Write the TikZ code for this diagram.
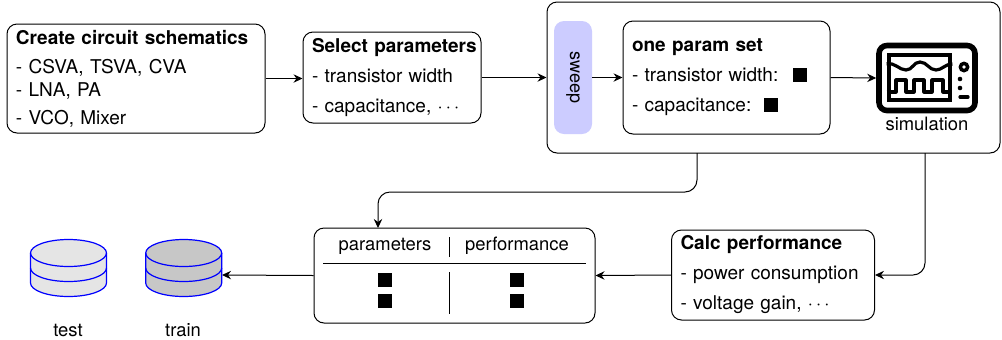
\documentclass[tikz,border=0pt]{standalone}
\usepackage{fontspec}
\setmainfont[WordSpace=1.7]{TeX Gyre Heros}
\usetikzlibrary{arrows.meta}
\newcommand{\blob}{\rule{7pt}{7pt}}
\tikzset{box style/.style={
		draw=black,
		rounded corners=5pt,
		fill=white,
		align=left,
		inner xsep=4.5pt,
		inner ysep=0pt,
		line width=0.5pt,
		font=\fontsize{9.5}{11}\selectfont,
	},
	label style/.style={
		inner sep=0pt,
		font=\fontsize{9.2}{11}\selectfont,
	},
	conn style/.style={
		-{Stealth[length=4.5pt,width=4.2pt,inset=1.5pt]},
		line width=0.5pt,
		rounded corners=6pt,
	},
	rule style/.style={
		line width=0.5pt,
	},
	disk style/.style={
		draw=blue,
		line width=0.6pt,
	},
	datadisk/.pic={
		\fill[#1] (-38,-15) -- (-38,15) arc[start angle=180,end angle=0,x radius=38,y radius=13.5] -- (38,-15) arc[start angle=0,end angle=-180,x radius=38,y radius=13.5] -- cycle;
		\draw[disk style] (0,-15) ellipse[x radius=38,y radius=13.5];
		\draw[disk style] (-38,-15) -- (-38,15) arc[start angle=180,end angle=0,x radius=38,y radius=13.5] -- (38,-15);
		\draw[disk style] (-38,0) arc[start angle=180,end angle=0,x radius=38,y radius=13.5];
	}
}
\begin{document}
\begin{tikzpicture}[x=0.5pt,y=-0.5pt]
	\useasboundingbox (0,0) rectangle (1002,339);

	% top row
	\node[box style, minimum height=54.5pt, text width=120pt] (Schematics) at (136,78.5) {\textbf{Create circuit schematics}\\[3.5pt]- CSVA, TSVA, CVA\\[0.5pt]- LNA, PA\\[3pt]- VCO, Mixer};
	\node[box style, minimum height=45.5pt, text width=80pt] (Select) at (392,77.5) {\mbox{\textbf{Select parameters}}\\[4pt]- transistor width\\[4pt]- capacitance, $\cdots$};
	\node[box style, minimum width=226.5pt, minimum height=75.5pt] (Outer) at (773.5,77.5) {};
	\node[fill=blue!20, rounded corners=5pt, minimum width=56.5pt, minimum height=19pt, inner sep=0pt, rotate=-90, font=\fontsize{9}{11}\selectfont] (Sweep) at (573,77.5) {sweep};
	\node[box style, minimum height=56.5pt, text width=94.5pt] (OneSet) at (726.5,77.5) {\textbf{one param set}\\[4pt]- transistor width:\hspace*{7.5pt}\blob\\[4pt]- capacitance:\hspace*{6.5pt}\blob};

	% oscilloscope
	\node[draw, line width=2.8pt, rounded corners=4pt, minimum width=48pt, minimum height=32.5pt, inner sep=0pt] (Scope) at (927,78) {};
	\node[draw, line width=2.4pt, minimum width=30.5pt, minimum height=22.5pt, inner sep=0pt] (Screen) at (919.5,77.5) {};
	\draw[line width=1.6pt] (Screen.west |- 0,64) .. controls (895,62) and (899,70) .. (906,70) .. controls (913,70) and (913,62) .. (920,62) .. controls (927,62) and (929,70) .. (936,70) .. controls (942,70) and (945,64) .. (Screen.east |- 0,64);
	\draw[line width=1.6pt, line join=round] (Screen.west |- 0,92) -- (896,92) -- (896,80) -- (906,80) -- (906,92) -- (914,92) -- (914,80) -- (924,80) -- (924,92) -- (932,92) -- (932,80) -- (943,80) -- (943,92) -- (Screen.east |- 0,92);
	\fill (964,67) circle[radius=5.5];
	\fill[white] (964,67) circle[radius=1.8];
	\fill (960,79) circle[radius=2.3];
	\fill (960,88) circle[radius=2.3];
	\draw[line width=1.6pt, line cap=round] (960,97) -- (968,97);
	\node[label style] (Sim) at (927,124) {simulation};

	% bottom row
	\node[box style, minimum width=140.5pt, minimum height=47.5pt] (Table) at (454.5,275.5) {};
	\node[label style] (ParamHead) at (385,246) {parameters};
	\node[label style] (PerfHead) at (517,246) {performance};
	\node[inner sep=0pt] (ParamA) at (385,280) {\blob};
	\node[inner sep=0pt] (ParamB) at (385,301) {\blob};
	\node[inner sep=0pt] (PerfA) at (517,280) {\blob};
	\node[inner sep=0pt] (PerfB) at (517,301) {\blob};
	\coordinate (RuleW) at (323,263);
	\coordinate (RuleE) at (586,263);
	\draw[rule style] (RuleW) -- (RuleE);
	\draw[rule style] (449,237) -- (449,257);
	\draw[rule style] (449,272) -- (449,314);
	\node[box style, minimum height=45pt, text width=92.5pt] (Calc) at (773,275) {\textbf{Calc performance}\\[4pt]- power consumption\\[4pt]- voltage gain, $\cdots$};

	% data sets
	\pic at (68.5,268) {datadisk=black!10};
	\pic at (183.7,268) {datadisk=black!22};
	\coordinate (TrainIn) at (222,275);
	\node[label style] (Test) at (68,330) {test};
	\node[label style] (Train) at (183,330) {train};

	% connectors
	\draw[conn style] (Schematics.east) -- (Schematics.east -| Select.west);
	\draw[conn style] (Select.east) -- (Outer.west);
	\draw[conn style] (Sweep.north) -- (Sweep.north -| OneSet.west);
	\draw[conn style] (OneSet.east) -- (Scope.west);
	\draw[conn style] (697,153) -- (697,192) -- (378,192) -- (378,228);
	\draw[conn style] (925,153) -- (925,275) -- (Calc.east);
	\draw[conn style] (Calc.west) -- (Table.east);
	\draw[conn style] (Table.west) -- (TrainIn);
\end{tikzpicture}
\end{document}
